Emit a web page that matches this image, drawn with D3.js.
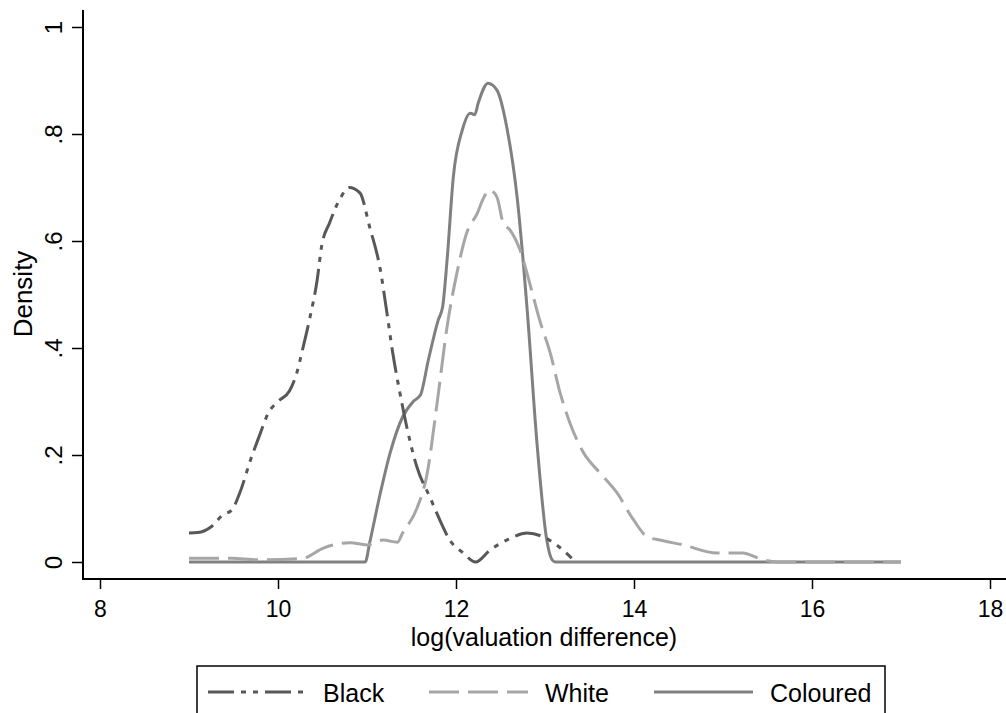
<!DOCTYPE html>
<html>
<head>
<meta charset="utf-8">
<script src="https://cdn.jsdelivr.net/npm/d3@7"></script>
<style>
  body { margin: 0; background: #fff; }
  text { font-family: "Liberation Sans", Arial, sans-serif; fill: #000; }
</style>
</head>
<body>
<svg id="chart" width="1006" height="713"></svg>
<script>
// density curves
var black_x = [9.0, 9.1, 9.25, 9.38, 9.48, 9.57, 9.69, 9.80, 9.89, 10.0, 10.13, 10.21, 10.28, 10.36, 10.44, 10.49, 10.58, 10.70, 10.80, 10.92, 11.03, 11.15, 11.22, 11.29, 11.37, 11.45, 11.56, 11.71, 11.82, 11.93, 12.08, 12.22, 12.38, 12.57, 12.80, 12.98, 13.13, 13.30];
var black_y = [0.054, 0.055, 0.066, 0.088, 0.097, 0.129, 0.19, 0.24, 0.278, 0.30, 0.32, 0.353, 0.40, 0.458, 0.527, 0.59, 0.634, 0.68, 0.70, 0.69, 0.626, 0.546, 0.47, 0.39, 0.316, 0.25, 0.178, 0.12, 0.078, 0.041, 0.017, 0.0, 0.022, 0.041, 0.054, 0.047, 0.032, 0.007];

var white_x = [9.0, 9.49, 9.76, 10.28, 10.51, 10.81, 11.0, 11.18, 11.34, 11.40, 11.56, 11.67, 11.79, 11.90, 12.01, 12.12, 12.24, 12.30, 12.38, 12.46, 12.53, 12.61, 12.72, 12.83, 12.94, 13.06, 13.17, 13.28, 13.43, 13.62, 13.81, 13.99, 14.15, 14.29, 14.55, 14.93, 15.22, 15.45, 15.61, 17.0];
var white_y = [0.007, 0.007, 0.004, 0.007, 0.026, 0.036, 0.032, 0.041, 0.037, 0.054, 0.10, 0.16, 0.30, 0.44, 0.54, 0.615, 0.652, 0.677, 0.695, 0.682, 0.634, 0.62, 0.583, 0.52, 0.452, 0.39, 0.316, 0.26, 0.205, 0.166, 0.129, 0.08, 0.047, 0.041, 0.032, 0.017, 0.017, 0.004, 0.0, 0.0];

var col_x = [9.0, 10.98, 11.03, 11.15, 11.26, 11.40, 11.52, 11.60, 11.69, 11.80, 11.85, 11.90, 11.97, 12.07, 12.16, 12.21, 12.25, 12.36, 12.46, 12.57, 12.69, 12.80, 12.91, 13.02, 13.08, 13.12, 17.0];
var col_y = [0, 0, 0.036, 0.129, 0.204, 0.271, 0.30, 0.312, 0.378, 0.452, 0.477, 0.565, 0.72, 0.807, 0.839, 0.836, 0.858, 0.895, 0.882, 0.813, 0.677, 0.471, 0.222, 0.041, 0.004, 0, 0];

var x_ticks = [8, 10, 12, 14, 16, 18];
var y_ticks = [0, 0.2, 0.4, 0.6, 0.8, 1];
var y_labels = ["0", ".2", ".4", ".6", ".8", "1"];
var names = ["Black", "White", "Coloured"];

var svg = d3.select("#chart");

var x = d3.scaleLinear().domain([8, 18]).range([100, 990]);
var y = d3.scaleLinear().domain([0, 1]).range([562, 27]);

var styles = [
    {color: "#585858", dash: "26,7,5,7,5,7"},
    {color: "#a6a6a6", dash: "30,9"},
    {color: "#808080", dash: null}
];

function zipit(xs, ys) {
    return xs.map(function(d, i) { return [d, ys[i]]; });
}
var series = [zipit(black_x, black_y), zipit(white_x, white_y), zipit(col_x, col_y)];

var line = d3.line()
    .x(function(d) { return x(d[0]); })
    .y(function(d) { return y(d[1]); })
    .curve(d3.curveMonotoneX);

// draw coloured first so the dashed ones sit on top, like the picture
[2, 1, 0].forEach(function(i) {
    svg.append("path")
        .datum(series[i])
        .attr("d", line)
        .attr("fill", "none")
        .attr("stroke", styles[i].color)
        .attr("stroke-width", 3)
        .attr("stroke-linejoin", "round")
        .attr("stroke-dasharray", styles[i].dash);
});

// axes
var xAxis = svg.append("g")
    .attr("transform", "translate(0,579)")
    .call(d3.axisBottom(x).tickValues(x_ticks).tickSize(10).tickPadding(12).tickFormat(d3.format("d")));
xAxis.select(".domain").remove();
xAxis.selectAll("line").attr("stroke-width", 1.5);
xAxis.selectAll("text").attr("font-size", "23px").attr("font-family", "Liberation Sans, Arial, sans-serif");

var yAxis = svg.append("g")
    .attr("transform", "translate(83,0)")
    .call(d3.axisLeft(y).tickValues(y_ticks).tickSize(11).tickFormat(function(d, i) { return y_labels[i]; }));
yAxis.select(".domain").remove();
yAxis.selectAll("line").attr("stroke-width", 1.5);
yAxis.selectAll("text")
    .attr("font-size", "24px")
    .attr("font-family", "Liberation Sans, Arial, sans-serif")
    .attr("x", 0)
    .attr("dy", 0)
    .attr("text-anchor", "middle")
    .attr("transform", "translate(-21,0) rotate(-90)");

svg.append("line")
    .attr("x1", 82).attr("x2", 1006)
    .attr("y1", 579).attr("y2", 579)
    .attr("stroke", "#000").attr("stroke-width", 2);
svg.append("line")
    .attr("x1", 83).attr("x2", 83)
    .attr("y1", 10).attr("y2", 580)
    .attr("stroke", "#000").attr("stroke-width", 2);

// titles
svg.append("text")
    .attr("x", 544)
    .attr("y", 646)
    .attr("text-anchor", "middle")
    .attr("font-size", "25px")
    .text("log(valuation difference)");

svg.append("text")
    .attr("transform", "translate(32,294) rotate(-90)")
    .attr("text-anchor", "middle")
    .attr("font-size", "26px")
    .text("Density");

// legend
svg.append("rect")
    .attr("x", 197).attr("y", 666)
    .attr("width", 688).attr("height", 80)
    .attr("fill", "none")
    .attr("stroke", "#000")
    .attr("stroke-width", 1.5);

var leg_line_x = [208, 429, 654];
var leg_text_x = [323, 545, 770];
names.forEach(function(n, i) {
    svg.append("line")
        .attr("x1", leg_line_x[i]).attr("x2", leg_line_x[i] + 99)
        .attr("y1", 692).attr("y2", 692)
        .attr("stroke", styles[i].color)
        .attr("stroke-width", 3)
        .attr("stroke-dasharray", styles[i].dash);
    svg.append("text")
        .attr("x", leg_text_x[i])
        .attr("y", 702)
        .attr("font-size", "25px")
        .text(n);
});
</script>
</body>
</html>
